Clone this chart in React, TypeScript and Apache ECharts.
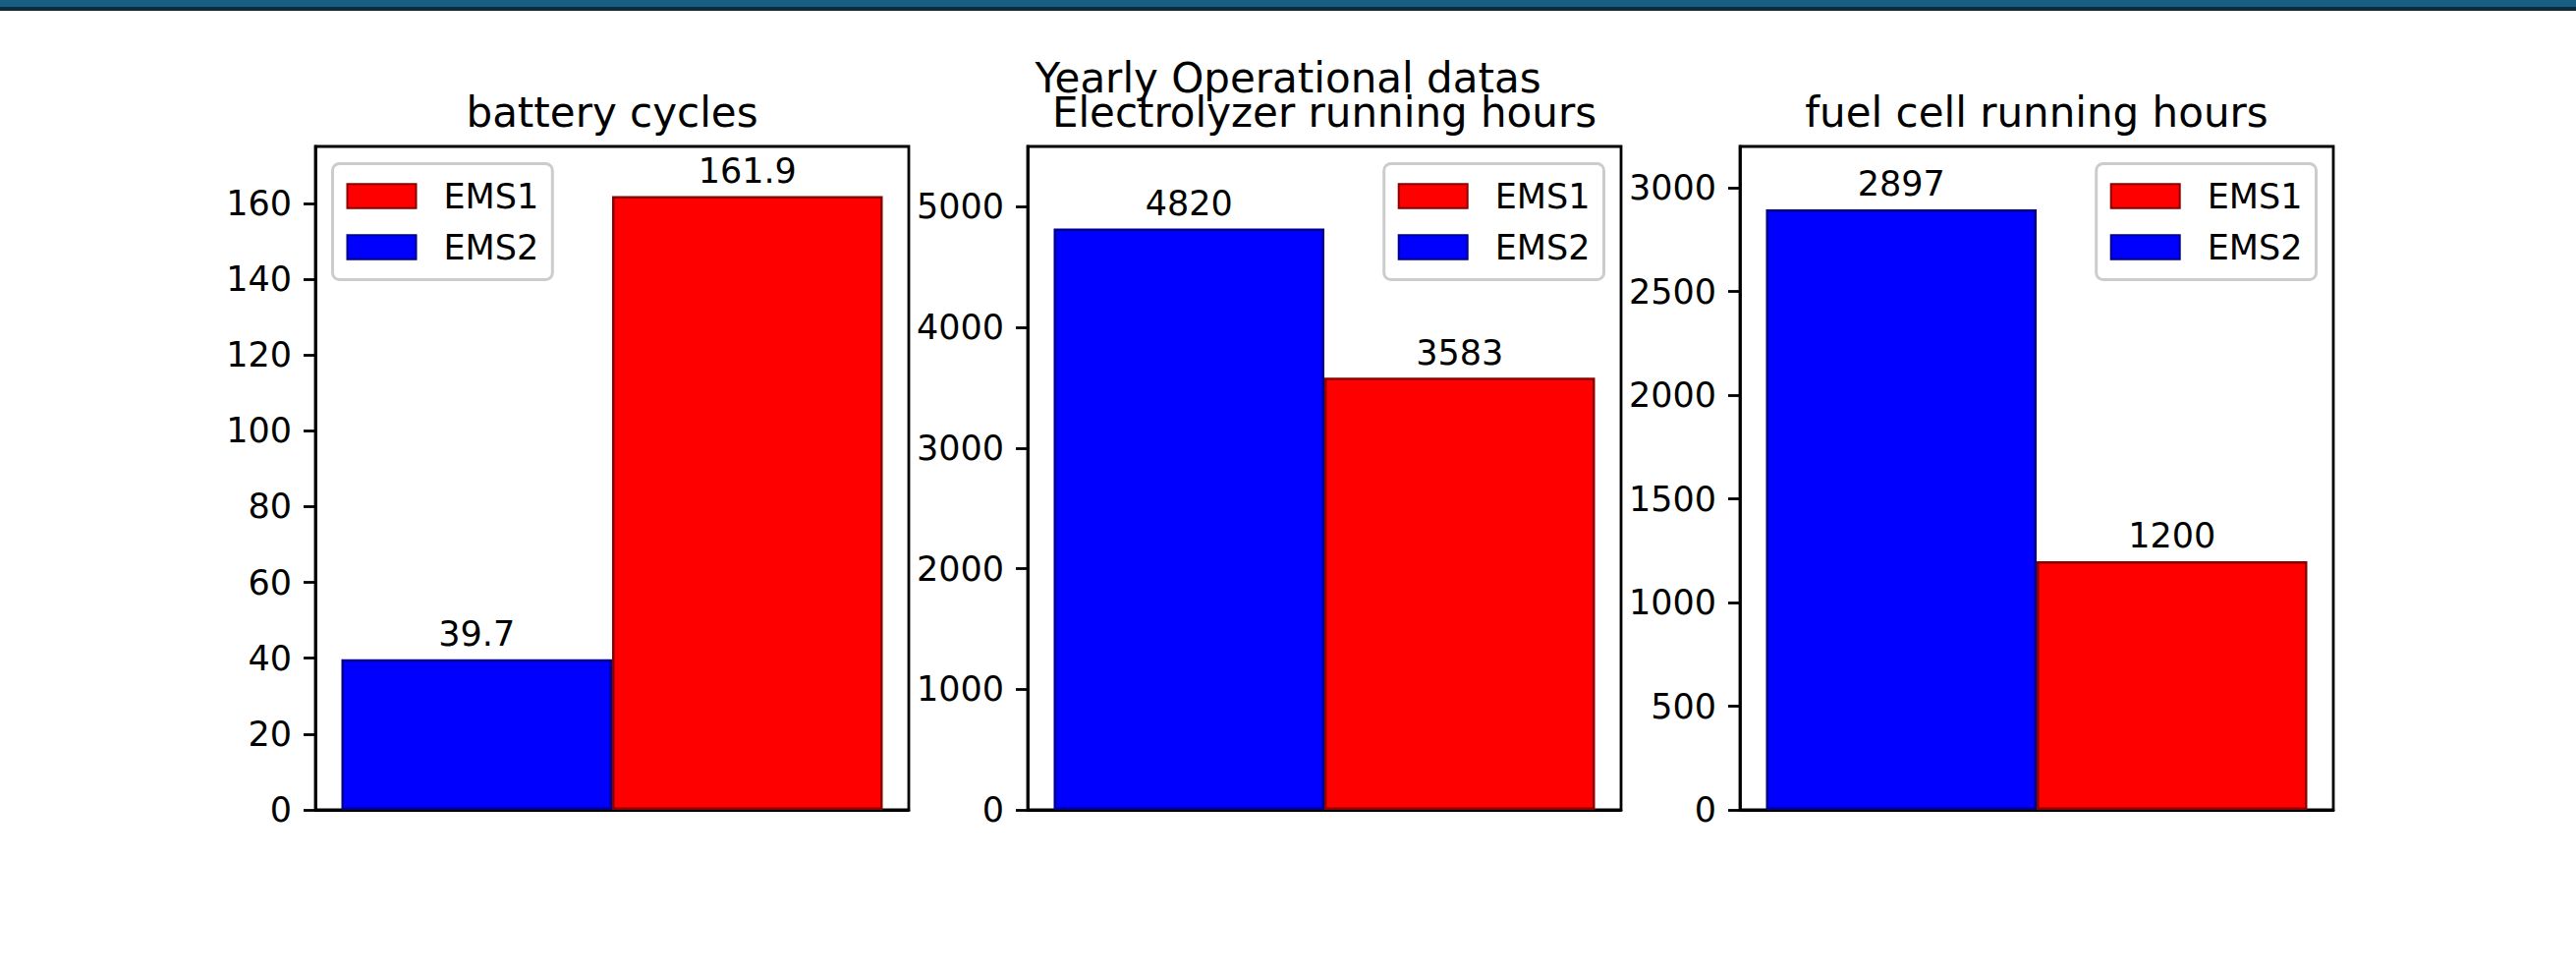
import React, { useEffect, useRef } from "react";
import * as echarts from "echarts";

// ---- data ----
const seriesNames = ["EMS1", "EMS2"];
const panelTitles = ["battery cycles", "Electrolyzer running hours", "fuel cell running hours"];
const supTitle = "Yearly Operational datas";
const ems1Values = [161.9, 3583, 1200];
const ems2Values = [39.7, 4820, 2897];
const yMaxes = [175, 5500, 3200];
const yIntervals = [20, 1000, 500];
const batteryTicks = [0, 20, 40, 60, 80, 100, 120, 140, 160];
const electrolyzerTicks = [0, 1000, 2000, 3000, 4000, 5000];
const fuelCellTicks = [0, 500, 1000, 1500, 2000, 2500, 3000];
const panelTicks = [batteryTicks, electrolyzerTicks, fuelCellTicks];
const legendSides = ["left", "right", "right"];

// ---- layout / style ----
const W = 2622;
const H = 992;
const gridLefts = [321, 1046, 1771];
const gridW = 604;
const gridTop = 149;
const gridH = 675;
const FONT = "DejaVu Sans";
const RED = "#ff0000";
const BLUE = "#0000ff";
const RED_EDGE = "#8b0000";
const BLUE_EDGE = "#00008b";

export default function App() {
  const ref = useRef<HTMLDivElement>(null);

  useEffect(() => {
    if (!ref.current) return;
    const chart = echarts.init(ref.current, undefined, { renderer: "svg", width: W, height: H });

    const grids = gridLefts.map((l) => ({
      left: l,
      top: gridTop,
      width: gridW,
      height: gridH,
      show: true,
      borderColor: "#000",
      borderWidth: 2.8,
      backgroundColor: "transparent",
    }));

    const xAxes = gridLefts.map((_, i) => ({
      type: "category",
      gridIndex: i,
      data: [""],
      axisLine: { show: true, lineStyle: { color: "#000", width: 2.8 } },
      axisTick: { show: false },
      axisLabel: { show: false },
      splitLine: { show: false },
    }));

    const yAxes = gridLefts.map((_, i) => ({
      type: "value",
      gridIndex: i,
      min: 0,
      max: yMaxes[i],
      interval: yIntervals[i],
      axisLine: { show: true, lineStyle: { color: "#000", width: 2.8 } },
      axisTick: {
        show: true,
        inside: false,
        length: 12,
        lineStyle: { color: "#000", width: 2.8 },
        customValues: panelTicks[i],
      },
      axisLabel: {
        show: true,
        margin: 24,
        color: "#000",
        fontSize: 35,
        fontFamily: FONT,
        customValues: panelTicks[i],
        formatter: (v: number) => String(v),
      },
      splitLine: { show: false },
    }));

    const series: any[] = [];
    gridLefts.forEach((_, i) => {
      series.push({
        type: "bar",
        name: seriesNames[1],
        xAxisIndex: i,
        yAxisIndex: i,
        data: [ems2Values[i]],
        barWidth: 275.5,
        barGap: "0%",
        itemStyle: { color: BLUE, borderColor: BLUE_EDGE, borderWidth: 2.5 },
        label: { show: true, position: "top", distance: 8, fontSize: 35, color: "#000", fontFamily: FONT },
      });
      series.push({
        type: "bar",
        name: seriesNames[0],
        xAxisIndex: i,
        yAxisIndex: i,
        data: [ems1Values[i]],
        barWidth: 275.5,
        barGap: "0%",
        itemStyle: { color: RED, borderColor: RED_EDGE, borderWidth: 2.5 },
        label: { show: true, position: "top", distance: 8, fontSize: 35, color: "#000", fontFamily: FONT },
      });
    });

    const legends = gridLefts.map((l, i) => {
      const base: any = {
        data: [seriesNames[0], seriesNames[1]],
        orient: "vertical",
        top: gridTop + 17.5,
        icon: "rect",
        itemWidth: 70,
        itemHeight: 24.5,
        itemGap: 14,
        padding: [14, 14, 14, 14],
        backgroundColor: "rgba(255,255,255,0.8)",
        borderColor: "#cccccc",
        borderWidth: 3,
        borderRadius: 7,
        selectedMode: false,
        textStyle: {
          fontSize: 35,
          color: "#000",
          fontFamily: FONT,
          lineHeight: 38,
          padding: [0, 0, 0, 23],
        },
      };
      if (legendSides[i] === "left") base.left = l + 17.5;
      else base.right = W - (l + gridW - 17.5);
      return base;
    });

    const graphics: any[] = [
      { type: "rect", shape: { x: 0, y: 0, width: W, height: 7 }, style: { fill: "#165e82" }, silent: true },
      { type: "rect", shape: { x: 0, y: 7, width: W, height: 4 }, style: { fill: "#0e2a3a" }, silent: true },
      {
        type: "text",
        x: W / 2,
        y: 79,
        style: { text: supTitle, fontSize: 42, fontFamily: FONT, fill: "#000", textAlign: "center", textVerticalAlign: "middle" },
        z: 100,
      },
    ];
    panelTitles.forEach((t, i) => {
      graphics.push({
        type: "text",
        x: gridLefts[i] + gridW / 2,
        y: 114,
        style: { text: t, fontSize: 42, fontFamily: FONT, fill: "#000", textAlign: "center", textVerticalAlign: "middle" },
        z: 100,
      });
    });

    chart.setOption({
      animation: false,
      backgroundColor: "#ffffff",
      textStyle: { fontFamily: FONT },
      grid: grids,
      xAxis: xAxes,
      yAxis: yAxes,
      legend: legends,
      series,
      graphic: graphics,
    });

    return () => chart.dispose();
  }, []);

  return (
    <div
      ref={ref}
      style={{ position: "fixed", left: 0, top: 0, width: W, height: H, background: "#fff" }}
    />
  );
}
